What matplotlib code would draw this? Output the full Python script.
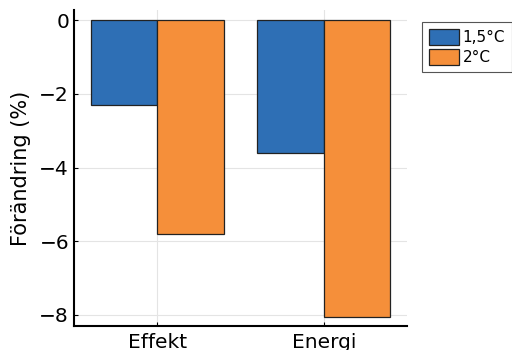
import matplotlib.pyplot as plt
import numpy as np

kategorier = ['Effekt', 'Energi']
serier = ['1,5°C', '2°C']
forandring_15 = [-2.3, -3.6]
forandring_2 = [-5.8, -8.05]
farger = ['#2E6FB5', '#F58F3A']

fig = plt.figure(figsize=(5.12, 3.5), dpi=100)
ax = fig.add_axes([0.1445, 0.0686, 0.6505, 0.9024])

x = np.arange(len(kategorier))
bredde = 0.4
ax.bar(x - bredde / 2, forandring_15, bredde, color=farger[0], edgecolor='#222222',
       linewidth=0.9, label=serier[0], zorder=3)
ax.bar(x + bredde / 2, forandring_2, bredde, color=farger[1], edgecolor='#222222',
       linewidth=0.9, label=serier[1], zorder=3)

ax.set_xlim(-0.5, 1.5)
ax.set_ylim(-8.3, 0.27)
ax.set_xticks(x)
ax.set_xticklabels(kategorier)
ax.set_yticks([0, -2, -4, -6, -8])
ax.set_yticklabels(['0', '−2', '−4', '−6', '−8'])
ax.set_ylabel('Förändring (%)', fontsize=15, labelpad=6)
ax.tick_params(labelsize=14.5, direction='in', length=3, width=0.8)
ax.tick_params(axis='x', pad=5)
ax.grid(True, color='#e4e4e4', linewidth=0.8, zorder=0)

ax.spines['top'].set_visible(False)
ax.spines['right'].set_visible(False)
ax.spines['left'].set_linewidth(1.5)
ax.spines['bottom'].set_linewidth(1.5)

leg = ax.legend(loc='upper left', bbox_to_anchor=(1.045, 0.962), fontsize=11,
                fancybox=False, edgecolor='#555555', framealpha=1,
                handlelength=2.0, handleheight=1.25, handletextpad=0.2,
                borderpad=0.45, labelspacing=0.25, borderaxespad=0)
leg.get_frame().set_linewidth(0.8)

fig.savefig('out.png', dpi=100)
